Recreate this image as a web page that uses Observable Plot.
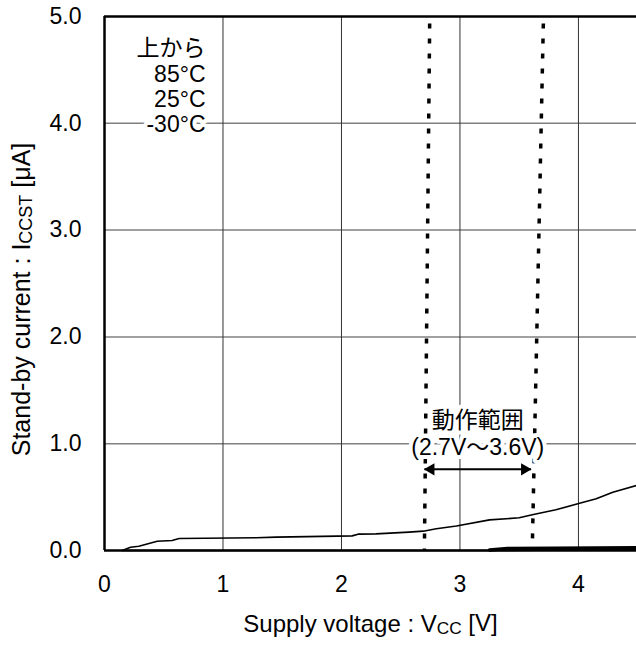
<!DOCTYPE html>
<html>
<head>
<meta charset="utf-8">
<script src="https://cdn.jsdelivr.net/npm/d3@7"></script>
<script src="https://cdn.jsdelivr.net/npm/@observablehq/plot@0.6"></script>
<style>
  html, body { margin: 0; padding: 0; background: white; }
</style>
</head>
<body>
<div id="chart"></div>
<script>
// ---- data ----
const xTicks = [0, 1, 2, 3, 4];
const yTicks = [0, 1, 2, 3, 4, 5];
const gridXValues = [1, 2, 3, 4];
const gridYValues = [1, 2, 3, 4];
const xDomain = [0, 4.49];
const yDomain = [0, 5];

const temps = ["85°C", "25°C", "-30°C"];
const voltage85 = [0.15, 0.22, 0.29, 0.445, 0.57, 0.63, 1.28, 1.45, 2.09, 2.14, 2.29, 2.57, 2.69, 2.80, 2.97, 3.25, 3.50, 3.62, 3.81, 4.01, 4.15, 4.29, 4.49];
const current85 = [0, 0.03, 0.04, 0.087, 0.094, 0.112, 0.119, 0.125, 0.137, 0.153, 0.156, 0.172, 0.181, 0.203, 0.230, 0.287, 0.306, 0.337, 0.381, 0.443, 0.484, 0.546, 0.609];
const voltage25 = [3.25, 3.4, 3.8, 4.49];
const current25 = [0.005, 0.018, 0.022, 0.026];
const voltageM30 = [0.15, 3.3, 4.49];
const currentM30 = [0, 0, 0.01];

const operatingRange = [2.7, 3.6];
const dashTopX = [2.745, 3.705];
const dashBottomX = [2.70, 3.61];
const arrowY = 0.76;
const rangeLabelY = 1.1;
const rangeLabel = "動作範囲\n(2.7V～3.6V)";
const legendText = "上から\n" + temps.join("\n");

const xLabel = "Supply voltage : VCC [V]";
const yLabel = "Stand-by current : ICCST [μA]";

// ---- build tables ----
const series = [
  ...voltage85.map((v, i) => ({temp: temps[0], v, c: current85[i]})),
  ...voltage25.map((v, i) => ({temp: temps[1], v, c: current25[i]})),
  ...voltageM30.map((v, i) => ({temp: temps[2], v, c: currentM30[i]}))
];
const dashData = dashTopX.map((t, i) => ({top: t, bottom: dashBottomX[i]}));

const font = "'Liberation Sans', Arial, 'Noto Sans CJK JP', sans-serif";

const chart = Plot.plot({
  width: 636,
  height: 646,
  marginLeft: 104,
  marginRight: 0,
  marginTop: 16,
  marginBottom: 96,
  style: {fontFamily: font, fontSize: "23px", color: "black", background: "white", overflow: "visible"},
  x: {domain: xDomain, ticks: xTicks, tickFormat: d3.format("d"), tickSize: 0, tickPadding: 25,
      label: xLabel, labelAnchor: "center", labelOffset: 81, labelArrow: "none"},
  y: {domain: yDomain, ticks: yTicks, tickFormat: d3.format(".1f"), tickSize: 0, tickPadding: 23,
      label: yLabel, labelAnchor: "center", labelOffset: 92, labelArrow: "none"},
  marks: [
    Plot.gridY(gridYValues, {stroke: "#808080", strokeOpacity: 1, strokeWidth: 1.5}),
    Plot.gridX(gridXValues, {stroke: "#333", strokeOpacity: 1, strokeWidth: 1}),
    Plot.link(dashData, {x1: "top", y1: () => yDomain[1], x2: "bottom", y2: () => yDomain[0],
      stroke: "black", strokeWidth: 3.5, strokeDasharray: "5,10", strokeDashoffset: 8}),
    Plot.text([rangeLabel], {x: () => d3.mean(operatingRange), y: () => rangeLabelY, text: d => d,
      lineAnchor: "middle", lineHeight: 1.17, fill: "black", stroke: "white", strokeWidth: 8, fontSize: 23}),
    Plot.text([legendText], {frameAnchor: "top-left", text: d => d, textAnchor: "end", lineAnchor: "top",
      dx: 101, dy: 22, lineHeight: 1.1, fill: "black", stroke: "white", strokeWidth: 8, fontSize: 23}),
    Plot.link([operatingRange], {x1: d => d[0], x2: d => d[1], y1: () => arrowY, y2: () => arrowY,
      stroke: "black", strokeWidth: 2}),
    Plot.dot([operatingRange[0]], {x: d => d, y: () => arrowY, symbol: "triangle", r: 4.5, rotate: -90,
      dx: 6.5, fill: "black", stroke: "none"}),
    Plot.dot([operatingRange[1]], {x: d => d, y: () => arrowY, symbol: "triangle", r: 4.5, rotate: 90,
      dx: -6.5, fill: "black", stroke: "none"}),
    Plot.line(series.filter(d => d.temp === temps[2]), {x: "v", y: "c", stroke: "black", strokeWidth: 1.5}),
    Plot.line(series.filter(d => d.temp === temps[1]), {x: "v", y: "c", stroke: "black", strokeWidth: 3.5}),
    Plot.line(series.filter(d => d.temp === temps[0]), {x: "v", y: "c", stroke: "black", strokeWidth: 1.6}),
    Plot.ruleY([yDomain[0]], {stroke: "black", strokeWidth: 2.5}),
    Plot.ruleY([yDomain[1]], {stroke: "black", strokeWidth: 2.5}),
    Plot.ruleX([xDomain[0]], {stroke: "black", strokeWidth: 2.5})
  ]
});

// subscripts in axis labels
function subscript(svg, full, before, sub, after, size, shift) {
  d3.select(svg).selectAll("text").each(function() {
    if (this.textContent === full) {
      const t = d3.select(this);
      t.selectAll("*").remove();
      t.text(null);
      t.attr("font-size", size);
      t.append("tspan").text(before);
      t.append("tspan").attr("font-size", "0.72em").attr("dy", "0.12em").text(sub);
      t.append("tspan").attr("dy", "-0.09em").text(after);
      if (shift) {
        const tr = t.attr("transform") || "";
        t.attr("transform", tr + " translate(" + shift + ",0)");
      }
    }
  });
}
subscript(chart, xLabel, "Supply voltage : V", "CC", " [V]", "24px", 0);
subscript(chart, yLabel, "Stand-by current : I", "CCST", " [μA]", "25px", -16);

document.getElementById("chart").appendChild(chart);
</script>
</body>
</html>
